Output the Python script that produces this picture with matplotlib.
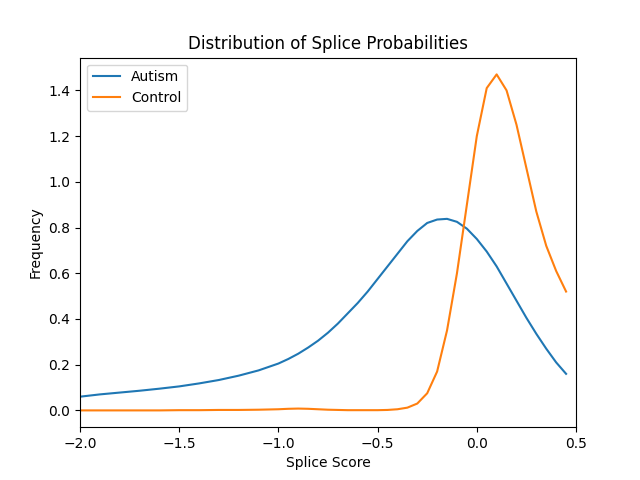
import matplotlib
matplotlib.use("Agg")
import matplotlib.pyplot as plt

# splice score grid
score = [-2.0, -1.9, -1.8, -1.7, -1.6, -1.5, -1.4, -1.3, -1.2, -1.1,
         -1.0, -0.95, -0.9, -0.85, -0.8, -0.75, -0.7, -0.65, -0.6, -0.55,
         -0.5, -0.45, -0.4, -0.35, -0.3, -0.25, -0.2, -0.15, -0.1, -0.05,
         0.0, 0.05, 0.1, 0.15, 0.2, 0.25, 0.3, 0.35, 0.4, 0.45]

autism = [0.06, 0.07, 0.078, 0.086, 0.095, 0.105, 0.118, 0.133, 0.152, 0.175,
          0.205, 0.225, 0.248, 0.275, 0.305, 0.34, 0.38, 0.425, 0.47, 0.52,
          0.575, 0.63, 0.685, 0.74, 0.785, 0.82, 0.835, 0.838, 0.825, 0.795,
          0.75, 0.695, 0.63, 0.555, 0.48, 0.405, 0.335, 0.27, 0.21, 0.16]

control = [0.0, 0.0, 0.0, 0.0, 0.0, 0.001, 0.001, 0.002, 0.002, 0.003,
           0.005, 0.007, 0.008, 0.007, 0.005, 0.003, 0.002, 0.001, 0.001, 0.001,
           0.001, 0.002, 0.005, 0.012, 0.03, 0.075, 0.17, 0.35, 0.6, 0.9,
           1.2, 1.41, 1.47, 1.4, 1.25, 1.06, 0.87, 0.72, 0.61, 0.52]

fig = plt.figure(figsize=(6.4, 4.8), dpi=100)
plt.plot(score, autism, label='Autism')
plt.plot(score, control, label='Control')
plt.title('Distribution of Splice Probabilities')
plt.xlabel('Splice Score')
plt.ylabel('Frequency')
plt.xlim(-2, 0.5)
plt.legend(loc='upper left')
plt.savefig('out.png')
